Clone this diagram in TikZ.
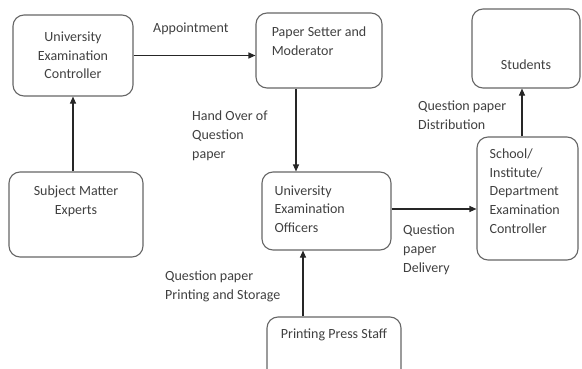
\documentclass[tikz,border=0pt]{standalone}
\usepackage{fontspec}
\setmainfont{Carlito}
\usetikzlibrary{arrows.meta, positioning, calc}

\begin{document}
\begin{tikzpicture}[
			x=1pt, y=1pt,
			every node/.style={font=\fontsize{14}{18.7}\selectfont, text=black!75},
			box/.style={
				rectangle, rounded corners=11pt,
				draw=black!60, line width=1.1pt, inner sep=0pt
			},
			boxtext/.style={inner sep=0pt, align=#1},
			boxtext/.default=left,
			flowlabel/.style={inner sep=0pt, align=left, anchor=north west},
			arrow/.style={
				-{Triangle[length=7pt,width=6pt]},
				line width=1.1pt, draw=black!85
			}
			]
			\clip (0,0) rectangle (582,368);
			
			% Left column
			\node[box, minimum width=120, minimum height=81, align=center] (uec) at (73,312.5) {University\\Examination\\Controller};
			\node[box, minimum width=134, minimum height=85] (sme) at (76,153.5) {};
			\node[boxtext=center, below=14pt of sme.north] (smetext) {Subject Matter\\Experts};
			
			% Middle column
			\node[box, minimum width=126, minimum height=75] (psm) at (319,317.5) {};
			\node[boxtext, below=14pt of psm.north] (psmtext) {Paper Setter and\\Moderator};
			\node[box, minimum width=129, minimum height=78] (ueo) at (326.5,157) {};
			\node[boxtext, anchor=north west] (ueotext) at ([xshift=13pt,yshift=-14pt]ueo.north west) {University\\Examination\\Officers};
			\node[box, minimum width=134, minimum height=63] (pps) at (334,19.5) {};
			\node[boxtext, below=12pt of pps.north] (ppstext) {Printing Press Staff};
			
			% Right column
			\node[box, minimum width=108, minimum height=79] (stu) at (526,319.5) {};
			\node[inner sep=0pt] (stutext) at ([yshift=-16.5pt]stu.center) {Students};
			\node[box, minimum width=101, minimum height=123] (sidec) at (527.5,169.5) {};
			\node[boxtext, anchor=north west] (sidectext) at ([xshift=13pt,yshift=-12pt]sidec.north west) {School/\\Institute/\\Department\\Examination\\Controller};
			
			% Arrows
			\draw[arrow] (uec.south |- sme.north) -- (uec.south);
			\draw[arrow] (uec.east) -- (uec.east -| psm.west);
			\draw[arrow] ([xshift=-23pt]psm.south) -- ([xshift=-23pt]psm.south |- ueo.north);
			\draw[arrow] ([xshift=-31pt]pps.north) -- ([xshift=-31pt]pps.north |- ueo.south);
			\draw[arrow] ([yshift=2pt]ueo.east) -- ([yshift=2pt]ueo.east -| sidec.west);
			\draw[arrow] ([xshift=-5.5pt]sidec.north) -- ([xshift=-5.5pt]sidec.north |- stu.south);
			
			% Arrow labels
			\node[flowlabel] (appt) at (153,345) {Appointment};
			\node[flowlabel] (handover) at (192,257) {Hand Over of\\Question\\paper};
			\node[flowlabel] (distrib) at (418,267) {Question paper\\Distribution};
			\node[flowlabel] (delivery) at (403,143) {Question\\paper\\Delivery};
			\node[flowlabel] (printing) at (165,97) {Question paper\\Printing and Storage};
			
		\end{tikzpicture}
\end{document}
